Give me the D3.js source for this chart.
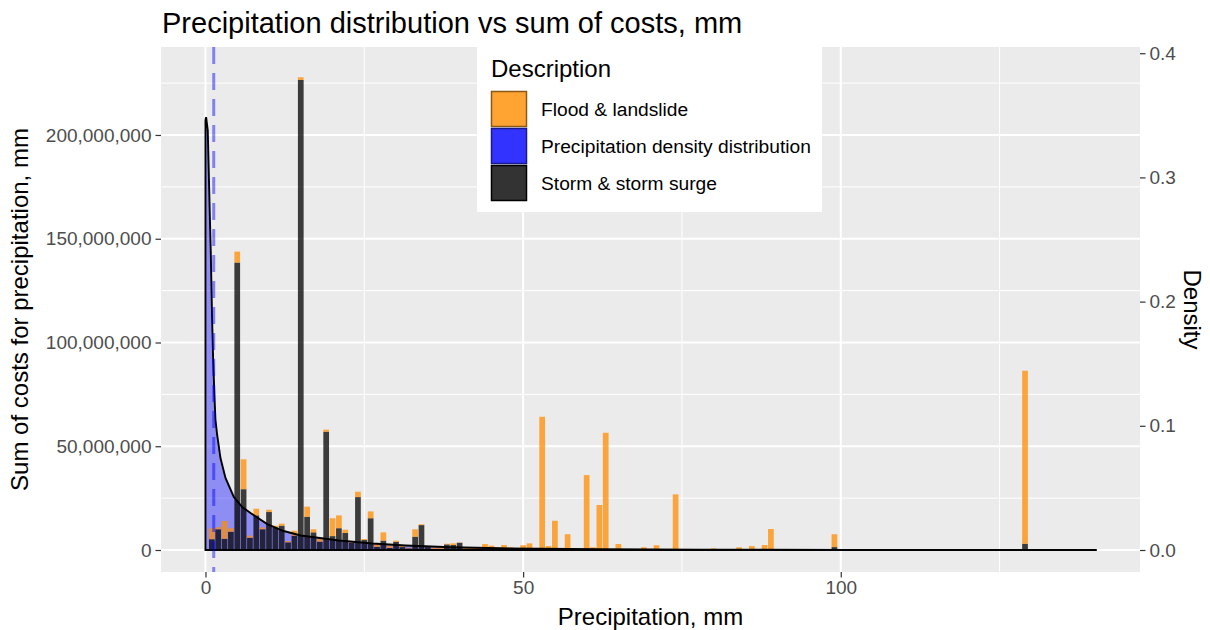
<!DOCTYPE html>
<html>
<head>
<meta charset="utf-8">
<script src="https://cdn.jsdelivr.net/npm/d3@7"></script>
<style>
    body { margin: 0; background: #fff; }
    text { font-family: 'Liberation Sans', Arial, sans-serif; }
</style>
</head>
<body>
<div id="chart"></div>
<script>
/*global d3: false*/

// precipitation (mm) of each bar, and sum of costs per description
var precip = [1, 2, 3, 4, 5, 6, 7, 8, 9, 10, 11, 12, 13, 14, 15, 16, 17, 18, 19, 20,
    21, 22, 23, 24, 25, 26, 27, 28, 29, 30, 31, 32, 33, 34, 35, 36, 37, 38, 39, 40,
    41, 42, 43, 44, 45, 46, 47, 48, 49, 50, 51, 53, 54, 55, 56, 57, 60, 61, 62, 63,
    64, 65, 67, 68, 69, 71, 74, 75, 76, 77, 80, 84, 86, 88, 89, 99, 129];
var storm = [5.2, 10.0, 5.4, 8.8, 138.5, 29.3, 5.9, 16.7, 10.0, 18.3, 10.9, 11.7, 3.7, 6.9, 226.5, 16.0, 8.5, 4.0, 57.0, 6.7,
    10.5, 8.2, 3.5, 25.5, 4.8, 15.3, 1.5, 4.5, 1.0, 3.9, 1.4, 0.8, 6.4, 12.0, 1.4, 0.5, 0.5, 2.7, 2.4, 3.5,
    0.3, 0.5, 0.6, 0.8, 0.6, 0.5, 0.7, 0.3, 0.3, 0.2, 0, 0.3, 0.6, 0, 0.2, 0, 0, 0.5, 0, 0,
    0.2, 0, 0.3, 0.3, 0, 0, 0, 0.3, 0.3, 0.3, 0, 0, 0, 0.3, 0.3, 1.4, 3.0];
var flood = [5.3, 1.0, 8.6, 1.7, 5.3, 14.4, 1.0, 3.2, 0.9, 1.1, 0.8, 1.0, 0.6, 2.4, 1.3, 4.9, 1.5, 1.3, 1.0, 8.6,
    6.2, 1.6, 0.8, 2.6, 0.5, 3.3, 1.7, 4.0, 1.1, 0.6, 0.7, 0.3, 3.6, 0.4, 0.5, 0.6, 1.4, 0.3, 0.8, 0.1,
    0.8, 0.8, 0.7, 2.1, 1.5, 0.6, 1.7, 1.0, 0, 2.1, 3.2, 63.9, 1.3, 14.1, 0.2, 7.6, 36.1, 0.8, 21.7, 56.5,
    0.2, 2.9, 0, 0.2, 1.3, 2.3, 26.8, 0, 0.2, 0, 0.8, 1.3, 1.9, 2.1, 9.8, 6.2, 83.4];

// density of precipitation
var densX = [0, 0.1, 0.36, 0.55, 0.7, 0.83, 0.95, 1.05, 1.2, 1.42, 1.57, 1.84, 2.36, 3.15, 4.46, 5.78,
    7.09, 9.72, 12.3, 15, 21, 26.3, 31.5, 38.6, 46.5, 62.2, 78, 101.6, 140.3];
var densY = [0.346, 0.3485, 0.338, 0.298, 0.266, 0.241, 0.21, 0.185, 0.155, 0.123, 0.105, 0.0926, 0.074, 0.058, 0.0427, 0.0346,
    0.0298, 0.0209, 0.0153, 0.0117, 0.0076, 0.0052, 0.0036, 0.0022, 0.0014, 0.0006, 0.0003, 0.0001, 0];
var medianPrecip = 1.3;

var yTicks = [0, 50e6, 100e6, 150e6, 200e6];
var yMinor = [25e6, 75e6, 125e6, 175e6, 225e6];
var xTicks = [0, 50, 100];
var xMinor = [25, 75, 125];
var dTicks = [0, 0.1, 0.2, 0.3, 0.4];
var legendLabels = ['Flood & landslide', 'Precipitation density distribution', 'Storm & storm surge'];
var legendColors = ['#ff8c00', '#0000ff', '#000000'];
var legendStrokes = ['#8b5a14', '#1a1a90', '#000000'];

(function() {
    'use strict';
    var width, height, svg, panel, x, y, yd, secScale, rows, g, area, line, legend, lg;

    width = 1210;
    height = 630;
    panel = {left: 161, right: 1140, top: 47, bottom: 572};
    secScale = 5.985e8;

    svg = d3.select('#chart').append('svg')
        .attr('width', width)
        .attr('height', height);

    x = d3.scaleLinear().domain([-7.0, 147.1]).range([panel.left, panel.right]);
    y = d3.scaleLinear().domain([-10.6e6, 242.4e6]).range([panel.bottom, panel.top]);
    yd = d3.scaleLinear().domain(y.domain().map(function(v) { return v / secScale; }))
        .range([panel.bottom, panel.top]);

    // Panel background + grid
    svg.append('rect')
        .attr('x', panel.left).attr('y', panel.top)
        .attr('width', panel.right - panel.left).attr('height', panel.bottom - panel.top)
        .attr('fill', '#ebebeb');
    g = svg.append('g');
    yMinor.forEach(function(v) {
        g.append('line').attr('x1', panel.left).attr('x2', panel.right)
            .attr('y1', y(v)).attr('y2', y(v))
            .attr('stroke', '#fff').attr('stroke-width', 1);
    });
    xMinor.forEach(function(v) {
        g.append('line').attr('y1', panel.top).attr('y2', panel.bottom)
            .attr('x1', x(v)).attr('x2', x(v))
            .attr('stroke', '#fff').attr('stroke-width', 1);
    });
    yTicks.forEach(function(v) {
        g.append('line').attr('x1', panel.left).attr('x2', panel.right)
            .attr('y1', y(v)).attr('y2', y(v))
            .attr('stroke', '#fff').attr('stroke-width', 2);
    });
    xTicks.forEach(function(v) {
        g.append('line').attr('y1', panel.top).attr('y2', panel.bottom)
            .attr('x1', x(v)).attr('x2', x(v))
            .attr('stroke', '#fff').attr('stroke-width', 2);
    });

    // Density fill
    rows = densX.map(function(d, i) { return {x: d, y: densY[i]}; });
    area = d3.area()
        .x(function(d) { return x(d.x); })
        .y0(yd(0))
        .y1(function(d) { return yd(d.y); });
    svg.append('path')
        .datum(rows)
        .attr('d', area)
        .attr('fill', '#0000ff')
        .attr('fill-opacity', 0.4);

    // Stacked bars: storm at the bottom, flood on top
    precip.forEach(function(p, i) {
        var bw = x(0.45) - x(0);
        if (storm[i] > 0) {
            svg.append('rect')
                .attr('x', x(p) - bw).attr('width', 2 * bw)
                .attr('y', y(storm[i] * 1e6))
                .attr('height', y(0) - y(storm[i] * 1e6))
                .attr('fill', '#000').attr('fill-opacity', 0.75);
        }
        if (flood[i] > 0) {
            svg.append('rect')
                .attr('x', x(p) - bw).attr('width', 2 * bw)
                .attr('y', y((storm[i] + flood[i]) * 1e6))
                .attr('height', y(storm[i] * 1e6) - y((storm[i] + flood[i]) * 1e6))
                .attr('fill', '#ff8c00').attr('fill-opacity', 0.75);
        }
    });

    // Density outline (closed polygon)
    line = d3.line()
        .x(function(d) { return x(d.x); })
        .y(function(d) { return yd(d.y); });
    svg.append('path')
        .datum([{x: 0, y: 0}].concat(rows))
        .attr('d', function(d) { return line(d) + 'Z'; })
        .attr('fill', 'none')
        .attr('stroke', '#000')
        .attr('stroke-width', 1.9);

    // Median line
    svg.append('line')
        .attr('x1', x(medianPrecip)).attr('x2', x(medianPrecip))
        .attr('y1', panel.top).attr('y2', panel.bottom)
        .attr('stroke', '#0000ff').attr('stroke-opacity', 0.45)
        .attr('stroke-width', 3)
        .attr('stroke-dasharray', '17,9');

    // Axes
    function styleAxis(sel) {
        sel.select('.domain').remove();
        sel.selectAll('.tick line').attr('stroke', '#333').attr('stroke-width', 1.2);
        sel.selectAll('.tick text').attr('fill', '#4d4d4d')
            .style('font-size', '19px')
            .style('font-family', "'Liberation Sans', Arial, sans-serif");
    }
    svg.append('g')
        .attr('transform', 'translate(' + panel.left + ',0)')
        .call(d3.axisLeft(y).tickValues(yTicks).tickFormat(d3.format(',')).tickSize(5.5).tickPadding(4))
        .call(styleAxis);
    svg.append('g')
        .attr('transform', 'translate(' + panel.right + ',0)')
        .call(d3.axisRight(yd).tickValues(dTicks).tickFormat(d3.format('.1f')).tickSize(5.5).tickPadding(4))
        .call(styleAxis);
    svg.append('g')
        .attr('transform', 'translate(0,' + panel.bottom + ')')
        .call(d3.axisBottom(x).tickValues(xTicks).tickSize(5.5).tickPadding(3))
        .call(styleAxis);

    // Titles
    svg.append('text')
        .attr('x', 162).attr('y', 33)
        .attr('font-size', 29).attr('fill', '#000')
        .text('Precipitation distribution vs sum of costs, mm');
    svg.append('text')
        .attr('x', (panel.left + panel.right) / 2).attr('y', 625)
        .attr('text-anchor', 'middle')
        .attr('font-size', 24).attr('fill', '#000')
        .text('Precipitation, mm');
    svg.append('text')
        .attr('transform', 'translate(28,' + (panel.top + panel.bottom) / 2 + ') rotate(-90)')
        .attr('text-anchor', 'middle')
        .attr('font-size', 24).attr('fill', '#000')
        .text('Sum of costs for precipitation, mm');
    svg.append('text')
        .attr('transform', 'translate(1184,' + (panel.top + panel.bottom) / 2 + ') rotate(90)')
        .attr('text-anchor', 'middle')
        .attr('font-size', 24).attr('fill', '#000')
        .text('Density');

    // Legend
    legend = svg.append('g');
    legend.append('rect')
        .attr('x', 477).attr('y', panel.top)
        .attr('width', 345).attr('height', 165)
        .attr('fill', '#fff');
    legend.append('text')
        .attr('x', 491).attr('y', 77)
        .attr('font-size', 24).attr('fill', '#000')
        .text('Description');
    legendLabels.forEach(function(lab, i) {
        lg = legend.append('g').attr('transform', 'translate(491,' + (91 + i * 37) + ')');
        lg.append('rect')
            .attr('x', 0.5).attr('y', 0.5)
            .attr('width', 35).attr('height', 35)
            .attr('fill', legendColors[i]).attr('fill-opacity', 0.8)
            .attr('stroke', legendStrokes[i])
            .attr('stroke-width', 1.5);
        lg.append('text')
            .attr('x', 50).attr('y', 25)
            .attr('font-size', 19.2).attr('fill', '#000')
            .text(lab);
    });
}());
</script>
</body>
</html>
